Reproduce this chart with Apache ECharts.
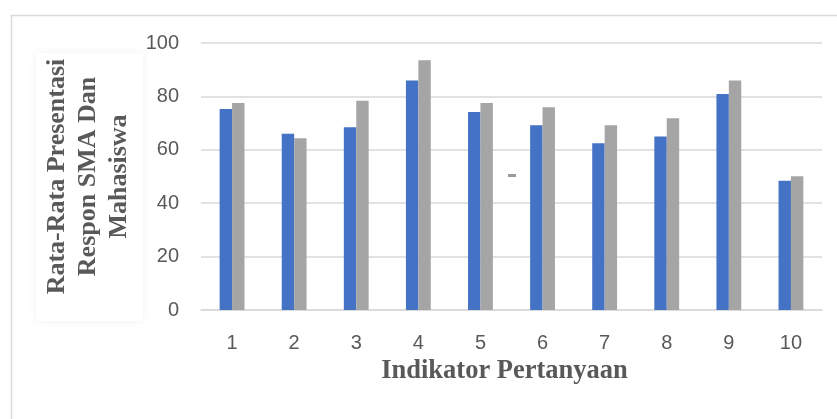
<!DOCTYPE html>
<html><head><meta charset="utf-8">
<script src="https://cdn.jsdelivr.net/npm/echarts@6/dist/echarts.min.js"></script>
<style>html,body{margin:0;padding:0;background:#fff}#c{width:837px;height:419px}</style>
</head><body><div id="c"></div>
<script>
const categories = ['1','2','3','4','5','6','7','8','9','10'];
const sma = [75.3, 66.0, 68.4, 86.0, 74.2, 69.2, 62.5, 65.0, 80.9, 48.4];
const mahasiswa = [77.5, 64.3, 78.4, 93.5, 77.5, 75.9, 69.2, 71.8, 86.0, 50.1];
const yTicks = [0, 20, 40, 60, 80, 100];
const xTitle = 'Indikator Pertanyaan';
const yTitle = 'Rata-Rata Presentasi\nRespon SMA Dan\nMahasiswa';

const chart = echarts.init(document.getElementById('c'), null, {renderer:'canvas'});
chart.setOption({
  animation:false,
  backgroundColor:'#fff',
  graphic:[
    {type:'rect', left:9, top:13, shape:{width:840, height:420}, style:{fill:'none', stroke:'#d9d9d9', lineWidth:1.5}, z:-10},
    {type:'rect', left:36, top:53, shape:{width:107, height:268}, style:{fill:'#fff', shadowBlur:8, shadowColor:'rgba(0,0,0,0.06)'}, z:-5},
    {type:'rect', left:508, top:174, shape:{width:8, height:3}, style:{fill:'#9a9a9a'}}
  ],
  grid:{left:201, right:15, top:43, bottom:109},
  xAxis:{
    type:'category', data:categories,
    axisLine:{lineStyle:{color:'#d9d9d9', width:1.5}},
    axisTick:{show:false},
    axisLabel:{color:'#595959', fontSize:20, fontFamily:'Liberation Sans', margin:23},
    name:xTitle, nameLocation:'middle', nameGap:45,
    nameTextStyle:{color:'#595959', fontSize:26.5, fontWeight:'bold', fontFamily:'Liberation Serif', padding:[0,14,0,0]}
  },
  yAxis:{
    type:'value', min:0, max:100, interval:20,
    axisLine:{show:false}, axisTick:{show:false},
    splitLine:{lineStyle:{color:'#d9d9d9', width:1.5}},
    axisLabel:{color:'#595959', fontSize:20, fontFamily:'Liberation Sans', margin:22,
      formatter:function(v){return yTicks.indexOf(v)>=0?String(v):'';}},
    name:yTitle, nameLocation:'middle', nameGap:65, nameRotate:90,
    nameTextStyle:{color:'#595959', fontSize:26, fontWeight:'bold', fontFamily:'Liberation Serif', lineHeight:31, align:'center'}
  },
  series:[
    {name:'SMA', type:'bar', data:sma, barWidth:'20%', barGap:'0%', itemStyle:{color:'#4472C4'}},
    {name:'Mahasiswa', type:'bar', data:mahasiswa, barWidth:'20%', barGap:'0%', itemStyle:{color:'#A5A5A5'}}
  ]
});
</script></body></html>
